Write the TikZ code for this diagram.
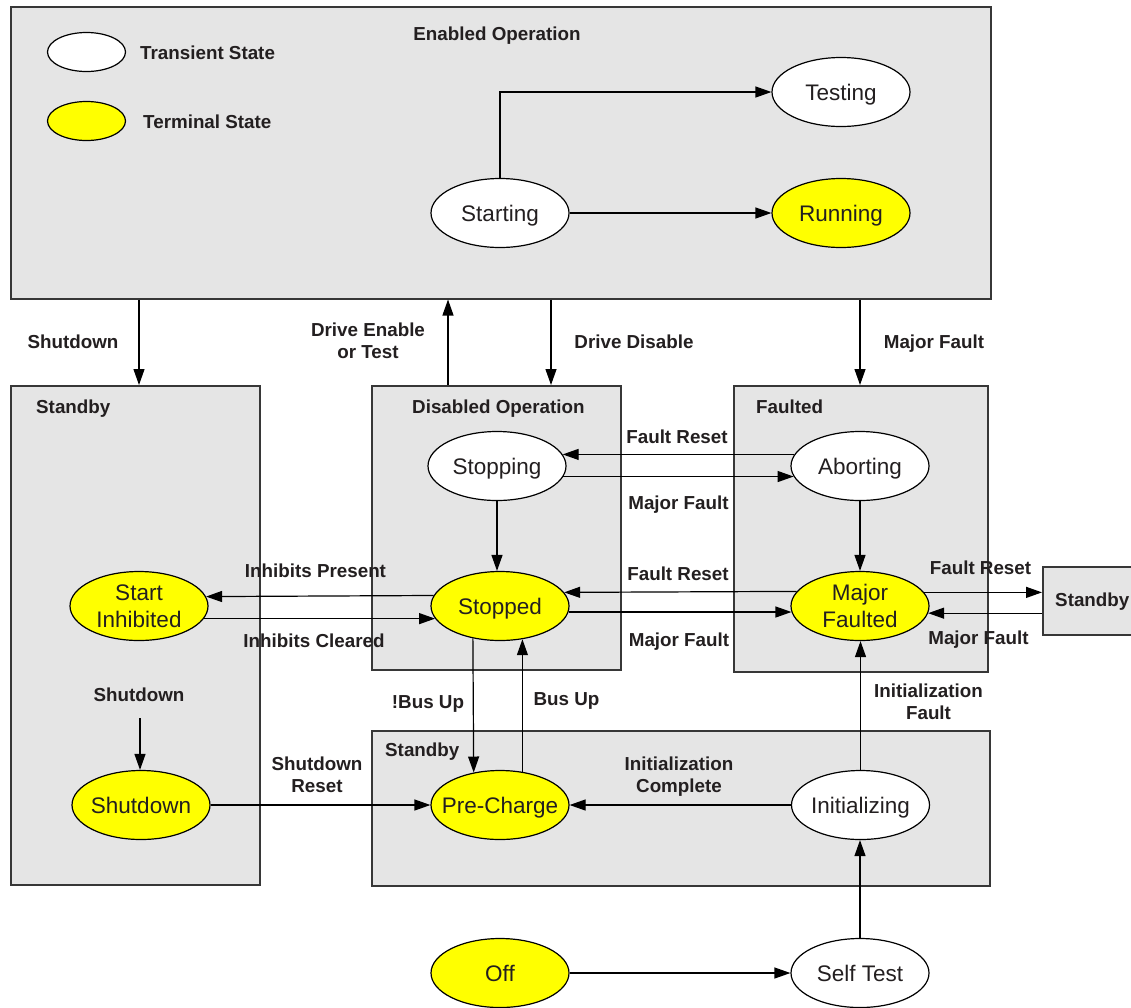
\documentclass[tikz,border=0pt]{standalone}
\usepackage{fontspec}
\setmainfont{Liberation Sans}
\usetikzlibrary{arrows.meta,shapes.geometric,calc}
\definecolor{boxfill}{RGB}{229,229,229}
\definecolor{boxline}{RGB}{55,55,55}
\definecolor{ink}{RGB}{35,31,32}
\definecolor{stateyellow}{RGB}{255,255,0}

% state ellipse with its caption: name, style, x, y, text
\newcommand\stateat[5]{%
  \node[#2] (#1) at (#3,#4) {};
  \node[stxt] (#1-txt) at (#1.center) {#5};}

\begin{document}
\begin{tikzpicture}[x=1pt,y=-1pt,
  box/.style={draw=boxline, fill=boxfill, line width=1.5pt, inner sep=0pt, anchor=north west},
  state/.style={ellipse, draw=black, line width=1.2pt, minimum width=138pt, minimum height=69pt, inner sep=0pt, fill=white},
  terminal/.style={state, fill=stateyellow},
  legendstate/.style={state, minimum width=78pt, minimum height=39pt},
  legendterminal/.style={legendstate, fill=stateyellow},
  stxt/.style={font=\fontsize{22.5}{26.5}\selectfont, text=ink, inner sep=0pt, text depth=0pt, align=center},
  lbl/.style={font=\fontsize{18.8}{22}\selectfont\bfseries, text=ink, inner sep=0pt, text depth=0pt, align=center},
  arr/.style={draw=black, line width=1.2pt, -{Triangle[length=16pt,width=11pt]}},
]
\useasboundingbox (0,0) rectangle (1131,1007);
\clip (0,0) rectangle (1131,1007);
\fill[white] (0,0) rectangle (1131,1007);

% ---- superstate boxes
\node[box, minimum width=980pt, minimum height=292pt] (enabled)  at (10,6) {};
\node[box, minimum width=249pt, minimum height=499pt] (sbL)      at (10,385) {};
\node[box, minimum width=249pt, minimum height=284pt] (disabled) at (371,385) {};
\node[box, minimum width=254pt, minimum height=286pt] (faulted)  at (733,385) {};
\node[box, minimum width=100pt, minimum height=68pt]  (sbR)      at (1042,566) {};
\node[box, minimum width=618pt, minimum height=155pt] (sbB)      at (371,730) {};

% ---- legend
\node[legendstate]    (legT) at (86.5,52) {};
\node[legendterminal] (legY) at (86.5,121) {};

% ---- states
\stateat{testing}{state}{841}{92}{Testing}
\stateat{starting}{state}{500}{213}{Starting}
\stateat{running}{terminal}{841}{213}{Running}
\stateat{stopping}{state}{497}{466}{Stopping}
\stateat{aborting}{state}{860}{466}{Aborting}
\stateat{stopped}{terminal}{500}{606}{Stopped}
\stateat{mf}{terminal}{860}{606}{Major\\Faulted}
\stateat{startinh}{terminal}{139}{606}{Start\\Inhibited}
\stateat{shutdownst}{terminal}{141}{805}{Shutdown}
\stateat{precharge}{terminal}{500}{805}{Pre-Charge}
\stateat{init}{state}{860.5}{805}{Initializing}
\stateat{off}{terminal}{500}{973}{Off}
\stateat{selftest}{state}{860}{973}{Self Test}

% ---- transitions between superstates
\coordinate (xen) at (448,0);
\coordinate (xdis) at (551,0);
\draw[arr] (startinh |- enabled.south) -- (startinh |- sbL.north);
\draw[arr] (xen |- disabled.north) -- (xen |- enabled.south);
\draw[arr] (xdis |- enabled.south) -- (xdis |- disabled.north);
\draw[arr] (aborting |- enabled.south) -- (aborting |- faulted.north);

% ---- transitions between states
\draw[arr] (starting.north) |- (testing);
\draw[arr] (starting) -- (running);
\draw[arr] (aborting.170) -- (stopping.10);
\draw[arr] (stopping.-9) -- (aborting.189);
\draw[arr] (stopping.south) -- (stopping.south |- stopped.north);
\draw[arr] (aborting) -- (mf);
\draw[arr] (mf.167.5) -- (stopped.12.5);
\draw[arr] (stopped.-5) -- (mf.185);
\draw[arr] (mf.12.5) -- (mf.12.5 -| sbR.west);
\draw[arr] (mf.-6 -| sbR.west) -- (mf.-6);
\draw[arr] (stopped.171.85) -- (startinh.8.15);
\draw[arr] (startinh.-11.5) -- (stopped.191.5);
\draw[arr] (stopped.230.5) -- (precharge.129.5);
\draw[arr] (precharge.56.6) -- (stopped.-56.6);
\coordinate (sdfrom) at (140,718);
\draw[arr] (sdfrom) -- (sdfrom |- shutdownst.north);
\draw[arr] (shutdownst) -- (precharge);
\draw[arr] (init) -- (precharge);
\draw[arr] (init.north) -- (init.north |- mf.south);
\draw[arr] (selftest.north) -- (selftest.north |- init.south);
\draw[arr] (off) -- (selftest);

% ---- titles and legend text
\node[lbl] (t-enabled) at (497,34) {Enabled Operation};
\node[lbl, anchor=west] (t-transient) at (140,53) {Transient State};
\node[lbl, anchor=west] (t-terminal) at (143,122) {Terminal State};
\node[lbl, anchor=west] (t-sbL) at (36,407) {Standby};
\node[lbl, anchor=west] (t-disabled) at (412,407) {Disabled Operation};
\node[lbl, anchor=west] (t-faulted) at (756,407) {Faulted};
\node[lbl, anchor=west] (t-sbB) at (385,750) {Standby};
\node[lbl, anchor=west] (t-sbR) at (1055,600) {Standby};

% ---- transition labels
\node[lbl] (l-shutdown) at (73,342) {Shutdown};
\node[lbl] (l-drvenable) at (368,341) {Drive Enable\\or Test};
\node[lbl] (l-drvdisable) at (634,342) {Drive Disable};
\node[lbl] (l-majtop) at (934,342) {Major Fault};
\node[lbl] (l-fr1) at (677,437) {Fault Reset};
\node[lbl] (l-mf1) at (678.5,503) {Major Fault};
\node[lbl] (l-fr2) at (678,574) {Fault Reset};
\node[lbl] (l-mf2) at (679,640) {Major Fault};
\node[lbl] (l-inhp) at (315.5,571) {Inhibits Present};
\node[lbl] (l-inhc) at (314,641) {Inhibits Cleared};
\node[lbl] (l-fr3) at (980.5,568) {Fault Reset};
\node[lbl] (l-mf3) at (978.5,638) {Major Fault};
\node[lbl] (l-shutdown2) at (139,695) {Shutdown};
\node[lbl] (l-nbus) at (428,702) {!Bus Up};
\node[lbl] (l-bus) at (566.5,699) {Bus Up};
\node[lbl] (l-initfault) at (928.5,702) {Initialization\\Fault};
\node[lbl] (l-initcomp) at (679,775) {Initialization\\Complete};
\node[lbl] (l-sdreset) at (317,775) {Shutdown\\Reset};
\end{tikzpicture}
\end{document}
